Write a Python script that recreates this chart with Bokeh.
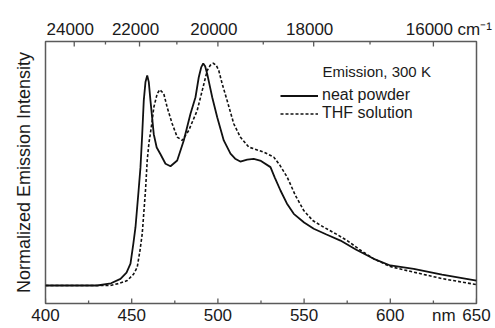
from bokeh.plotting import figure
from bokeh.models import (Range1d, LinearAxis, FixedTicker, CustomJSTickFormatter,
                          Label, Legend, LegendItem)
from bokeh.embed import file_html
from bokeh.resources import INLINE

# ---- data ----
powder_nm = [400, 420, 430, 438, 443.5, 447, 449.3, 451, 452.2, 454, 455.1, 456.1, 457.0,
             458.0, 459.0, 459.9, 460.9, 462.8, 464.5, 466.7, 469.6, 472.5, 476.4, 480.2,
             484.1, 487.0, 488.9, 490.3, 491.5, 492.6, 493.8, 496.7, 499.6, 503.4, 507.3,
             510, 513, 517, 520.8, 525, 530.5, 533, 536.3, 540, 544, 550, 555.6, 563,
             571.1, 580, 590.4, 600, 613.6, 630, 650]
powder_int = [0.0, 0.0, 0.0, 0.01, 0.03, 0.058, 0.098, 0.19, 0.262, 0.427, 0.532, 0.68, 0.831,
              0.915, 0.944, 0.915, 0.83, 0.68, 0.62, 0.59, 0.547, 0.536, 0.562, 0.652,
              0.772, 0.846, 0.936, 0.98, 0.998, 0.985, 0.951, 0.846, 0.756, 0.652, 0.593,
              0.57, 0.557, 0.566, 0.569, 0.56, 0.532, 0.485, 0.427, 0.369, 0.322, 0.283,
              0.255, 0.229, 0.202, 0.162, 0.12, 0.09, 0.075, 0.049, 0.022]

thf_nm = [400, 420, 437.7, 443, 447.4, 451, 453.2, 454.8, 456.1, 458, 459, 460, 461.9,
          462.8, 464.8, 466.3, 468.6, 470.6, 473.5, 476.4, 479.3, 483.1, 488.0, 490.9,
          493.8, 495.6, 497.3, 499.0, 500.5, 502.5, 505.4, 509.2, 513, 517.9, 523.7, 527,
          532.4, 536, 540.2, 545, 549.8, 555, 561.4, 568, 575, 582, 590.4, 600, 613.6,
          630, 650]
thf_int = [0.0, 0.0, 0.0, 0.01, 0.022, 0.05, 0.082, 0.157, 0.232, 0.427, 0.562, 0.64, 0.74,
           0.80, 0.862, 0.88, 0.862, 0.80, 0.727, 0.667, 0.652, 0.697, 0.787, 0.876,
           0.966, 0.99, 0.999, 0.99, 0.966, 0.906, 0.83, 0.727, 0.667, 0.622, 0.607, 0.598,
           0.577, 0.54, 0.487, 0.404, 0.337, 0.292, 0.262, 0.234, 0.202, 0.162, 0.12,
           0.085, 0.06, 0.031, 0.004]

bottom_major = [400, 450, 500, 550, 600, 650]
bottom_minor = [425, 475, 525, 575, 625]
bottom_labels = ["400", "450", "500", "550", "600", "650"]
nm_unit_pos = 631          # where the "nm" unit text sits on the bottom axis
top_wavenumbers = [24000, 22000, 20000, 18000, 16000]
top_minor_wavenumbers = [23000, 21000, 19000, 17000]
top_labels = ["24000", "22000", "20000", "18000", "16000"]
cm_unit_pos = 649          # where the "cm-1" unit text sits on the top axis

FONT = "Liberation Sans"
TXT = "#1a1a1a"
FRAME = "#5a5a5a"

W, H = 495, 328
BL, BR, BT, BB = 45, 19, 41, 25
X0, X1 = 400, 650
Y0, Y1 = -0.0809, 1.0966
frame_w = W - BL - BR
frame_h = H - BT - BB
px_x = (X1 - X0) / frame_w
px_y = (Y1 - Y0) / frame_h

p = figure(width=W, height=H, output_backend="svg", toolbar_location=None,
           x_range=Range1d(X0, X1), y_range=Range1d(Y0, Y1),
           x_axis_location=None, y_axis_location=None,
           min_border_left=BL, min_border_right=BR, min_border_top=BT, min_border_bottom=BB)
p.grid.visible = False
p.background_fill_color = "white"
p.border_fill_color = "white"
p.outline_line_color = FRAME
p.outline_line_width = 1.5

def nearest_label_formatter(pos, texts):
    return CustomJSTickFormatter(args=dict(tick_pos=pos, tick_text=texts), code="""
        let best = 0;
        for (let i = 0; i < tick_pos.length; i++)
            if (Math.abs(tick_pos[i] - tick) < Math.abs(tick_pos[best] - tick)) best = i;
        return tick_text[best];
    """)

def label_axis(ax, standoff):
    ax.axis_line_color = None
    ax.major_tick_in = 0
    ax.major_tick_out = 0
    ax.minor_tick_in = 0
    ax.minor_tick_out = 0
    ax.major_label_standoff = standoff
    ax.major_label_text_font = FONT
    ax.major_label_text_font_size = "17px"
    ax.major_label_text_color = TXT

# bottom axis: numbers + "nm"
b_ticks = bottom_major + [nm_unit_pos]
b_labels = bottom_labels + ["nm"]
bottom = LinearAxis(ticker=FixedTicker(ticks=b_ticks, minor_ticks=[]),
                    formatter=nearest_label_formatter(b_ticks, b_labels))
label_axis(bottom, 2)
p.add_layout(bottom, "below")

# top axis: wavenumbers (labels sit slightly left of their ticks, as in the original) + unit
top_shift = 4 * px_x
t_ticks = [1e7 / k - top_shift for k in top_wavenumbers] + [cm_unit_pos]
t_labels = top_labels + ["cm\u207b\u00b9"]
top = LinearAxis(ticker=FixedTicker(ticks=t_ticks, minor_ticks=[]),
                 formatter=nearest_label_formatter(t_ticks, t_labels))
label_axis(top, 3)
p.add_layout(top, "above")

left = LinearAxis(ticker=FixedTicker(ticks=[]), axis_label="Normalized Emission Intensity")
left.axis_line_color = None
left.major_tick_in = 0
left.major_tick_out = 0
left.minor_tick_in = 0
left.minor_tick_out = 0
left.axis_label_standoff = 12
left.axis_label_text_font = FONT
left.axis_label_text_font_style = "normal"
left.axis_label_text_font_size = "18px"
left.axis_label_text_color = TXT
p.add_layout(left, "left")

# inward tick marks
MAJ, MIN = 5 * px_y, 3 * px_y
top_major_pos = [1e7 / k for k in top_wavenumbers]
top_minor_pos = [1e7 / k for k in top_minor_wavenumbers]
for xs, y_edge, length in [(bottom_major, Y0, MAJ), (bottom_minor, Y0, MIN),
                           (top_major_pos, Y1, -MAJ), (top_minor_pos, Y1, -MIN)]:
    p.segment(x0=xs, y0=[y_edge] * len(xs), x1=xs, y1=[y_edge + length] * len(xs),
              line_color=FRAME, line_width=1.3)

r1 = p.line(powder_nm, powder_int, line_color="#111111", line_width=1.8)
r2 = p.line(thf_nm, thf_int, line_color="#111111", line_width=1.6, line_dash="3 2")

legend = Legend(items=[LegendItem(label="neat powder", renderers=[r1]),
                       LegendItem(label="THF solution", renderers=[r2])],
                location=(235, 181), orientation="vertical")
legend.label_text_font = FONT
legend.label_text_font_size = "16px"
legend.label_text_color = TXT
legend.glyph_width = 38
legend.glyph_height = 17
legend.label_height = 17
legend.label_standoff = 4
legend.spacing = 0
legend.padding = 0
legend.margin = 0
legend.border_line_color = None
legend.background_fill_alpha = 0
p.add_layout(legend)

p.add_layout(Label(x=277, y=232, x_units="screen", y_units="screen", text="Emission, 300 K",
                   text_font=FONT, text_font_size="15px", text_color=TXT,
                   text_baseline="middle"))

open("out.html", "w").write(file_html(p, INLINE))
